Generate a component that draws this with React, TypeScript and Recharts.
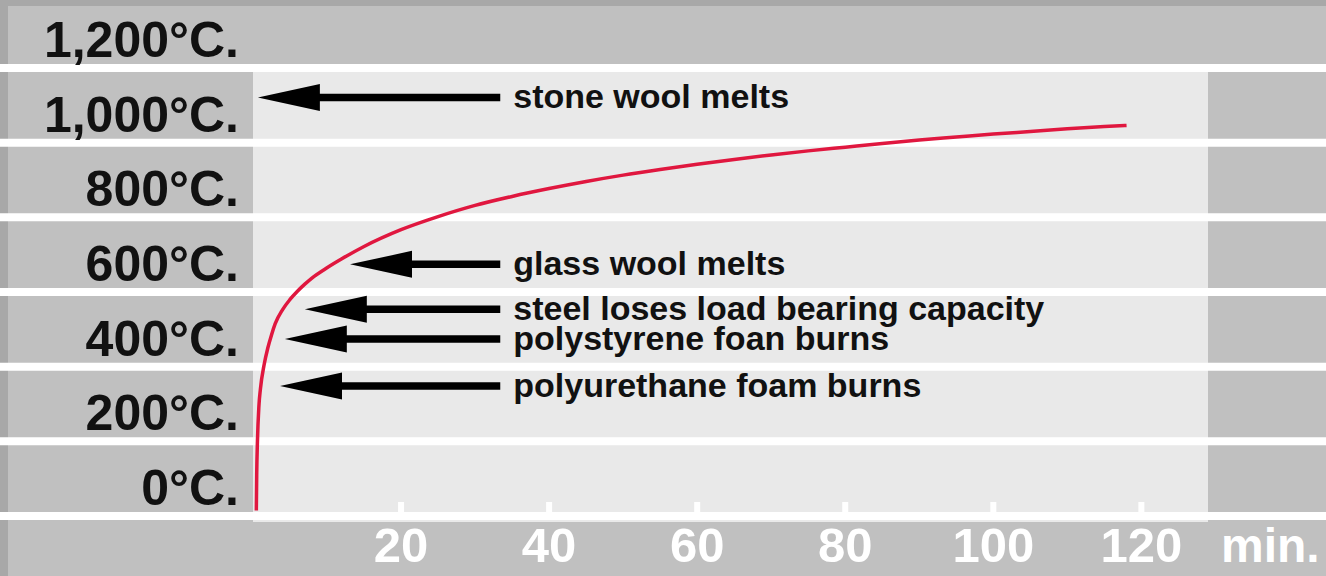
import React from 'react';
import { LineChart, Line, XAxis, YAxis, ReferenceArea, ReferenceLine } from 'recharts';

// Fire temperature curve (minutes -> °C)
const minutes = [0.45, 0.5, 0.6, 0.8, 1, 1.5, 2, 2.5, 3, 4, 5, 6, 7, 8, 10, 12, 15, 20, 25, 30, 35, 40, 45, 50, 55, 60, 65, 70, 75, 80, 85, 90, 95, 100, 105, 110, 115, 118];
const temperatures = [15, 110, 200, 295, 340, 405, 450, 485, 515, 553, 580, 602, 621, 638, 665, 689, 722, 767, 802, 832, 856, 877, 896, 913, 928, 942, 955, 967, 978, 988, 998, 1007, 1015, 1023, 1030, 1037, 1043, 1046];

const xTicks = [20, 40, 60, 80, 100, 120];
const yTicks = [0, 200, 400, 600, 800, 1000, 1200];
const yTickLabels = ['0°C.', '200°C.', '400°C.', '600°C.', '800°C.', '1,000°C.', '1,200°C.'];
const xUnit = 'min.';

const annotationLabels = [
  'stone wool melts',
  'glass wool melts',
  'steel loses load bearing capacity',
  'polystyrene foan burns',
  'polyurethane foam burns',
];
const annotationTemps = [1121, 674, 554, 474, 348];
const annotationTipMinutes = [0.66, 13.1, 7.0, 4.3, 3.65];
const annotationTailMinute = 33.4;

const data = minutes.map((t, i) => ({ t, temp: temperatures[i] }));
const annotations = annotationLabels.map((label, i) => ({
  label,
  temp: annotationTemps[i],
  tip: annotationTipMinutes[i],
}));

const FONT = '"Liberation Sans", Arial, Helvetica, sans-serif';

const YTick = (props: any) => {
  const { x, y, payload } = props;
  const idx = yTicks.indexOf(payload.value);
  return (
    <text x={x - 14} y={y - 11} textAnchor="end" fontFamily={FONT} fontWeight="bold" fontSize={50} fill="#111">
      {yTickLabels[idx]}
    </text>
  );
};

const XTick = (props: any) => {
  const { x, y, payload } = props;
  return (
    <g>
      <rect x={x - 3} y={y - 14} width={6} height={10} fill="#fff" />
      <text x={x} y={y + 46} textAnchor="middle" fontFamily={FONT} fontWeight="bold" fontSize={49} fill="#fff">
        {payload.value}
      </text>
    </g>
  );
};

const UnitLabel = (props: any) => {
  const vb = props.viewBox || {};
  return (
    <text x={vb.x + vb.width + 13} y={vb.y + 46} textAnchor="start" fontFamily={FONT} fontWeight="bold" fontSize={48} fill="#fff">
      {xUnit}
    </text>
  );
};

const makeArrow = (label: string) => (p: any) => {
  const x1 = Math.min(p.x1, p.x2);
  const x2 = Math.max(p.x1, p.x2);
  const y = p.y1;
  return (
    <g>
      <line x1={x1 + 40} y1={y} x2={x2} y2={y} stroke="#000" strokeWidth={7.5} />
      <polygon points={`${x1},${y} ${x1 + 62},${y - 13.5} ${x1 + 62},${y + 13.5}`} fill="#000" />
      <text x={x2 + 13} y={y + 11} fontFamily={FONT} fontWeight="bold" fontSize={34} fill="#111">
        {label}
      </text>
    </g>
  );
};

export default function App() {
  return (
    <div style={{ position: 'fixed', left: 0, top: 0, width: 1326, height: 576, background: '#a8a8a8', overflow: 'hidden' }}>
      <div style={{ position: 'absolute', left: 8, top: 6, right: 0, bottom: 0, background: '#c0c0c0' }} />
      <div style={{ position: 'absolute', left: 0, top: 0 }}>
        <LineChart width={1326} height={576} data={data} margin={{ top: 68, right: 118, bottom: 0, left: 9 }}>
          <XAxis
            dataKey="t"
            type="number"
            domain={[0, 129]}
            ticks={xTicks}
            interval={0}
            allowDataOverflow
            axisLine={false}
            tickLine={false}
            tickSize={0}
            tickMargin={0}
            height={60}
            tick={<XTick />}
            label={(p: any) => <UnitLabel {...p} />}
          />
          <YAxis
            type="number"
            domain={[0, 1200]}
            ticks={yTicks}
            interval={0}
            axisLine={false}
            tickLine={false}
            tickSize={0}
            tickMargin={0}
            width={244}
            tick={<YTick />}
          />
          <ReferenceArea x1={0} x2={129} y1={-16} y2={1200} fill="#e9e9e9" fillOpacity={1} stroke="none" ifOverflow="visible" />
          {yTicks.map((v) => (
            <ReferenceLine
              key={`g${v}`}
              segment={[{ x: -36, y: v }, { x: 146, y: v }]}
              stroke="#ffffff"
              strokeWidth={8}
              ifOverflow="visible"
            />
          ))}
          <Line
            type="monotone"
            dataKey="temp"
            stroke="#e0173f"
            strokeWidth={3.5}
            dot={false}
            isAnimationActive={false}
          />
          {annotations.map((a) => (
            <ReferenceLine
              key={a.label}
              segment={[{ x: a.tip, y: a.temp }, { x: annotationTailMinute, y: a.temp }]}
              ifOverflow="visible"
              shape={makeArrow(a.label)}
            />
          ))}
        </LineChart>
      </div>
    </div>
  );
}
